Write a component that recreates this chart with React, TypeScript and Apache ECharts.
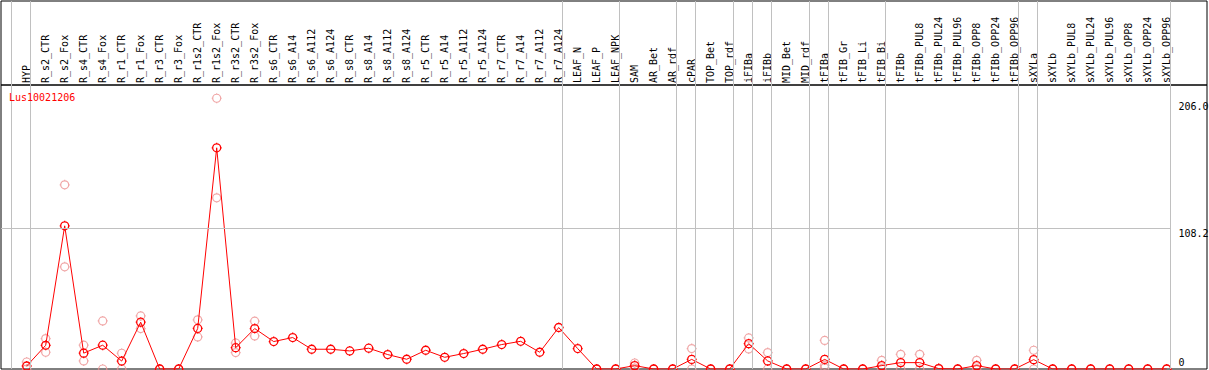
import React, { useEffect, useRef } from "react";
import * as echarts from "echarts";

const geneName = "Lus10021206";

const categories = [
  "HYP", "R_s2_CTR", "R_s2_Fox", "R_s4_CTR", "R_s4_Fox", "R_r1_CTR", "R_r1_Fox", "R_r3_CTR", "R_r3_Fox",
  "R_r1s2_CTR", "R_r1s2_Fox", "R_r3s2_CTR", "R_r3s2_Fox",
  "R_s6_CTR", "R_s6_A14", "R_s6_A112", "R_s6_A124",
  "R_s8_CTR", "R_s8_A14", "R_s8_A112", "R_s8_A124",
  "R_r5_CTR", "R_r5_A14", "R_r5_A112", "R_r5_A124",
  "R_r7_CTR", "R_r7_A14", "R_r7_A112", "R_r7_A124",
  "LEAF_N", "LEAF_P", "LEAF_NPK", "SAM", "AR_Bet", "AR_rdf", "cPAR", "TOP_Bet", "TOP_rdf",
  "iFIBa", "iFIBb", "MID_Bet", "MID_rdf", "tFIBa", "tFIB_Gr", "tFIB_Li", "tFIB_Bi",
  "tFIBb", "tFIBb_PUL8", "tFIBb_PUL24", "tFIBb_PUL96", "tFIBb_OPP8", "tFIBb_OPP24", "tFIBb_OPP96",
  "sXYLa", "sXYLb", "sXYLb_PUL8", "sXYLb_PUL24", "sXYLb_PUL96", "sXYLb_OPP8", "sXYLb_OPP24", "sXYLb_OPP96",
];

const meanValues = [
  2.3, 18.2, 110.1, 12.2, 18.3, 6.1, 36.0, 0, 0,
  31.2, 170.1, 16.4, 31.1,
  21.1, 24.2, 15.2, 15.2,
  13.9, 16.0, 11.1, 7.5,
  14.4, 9.0, 11.9, 15.2,
  18.8, 21.3, 12.9, 31.9,
  15.7, 0, 0, 2.6, 0, 0, 7.4, 0, 0,
  19.5, 6.2, 0, 0, 7.4, 0, 0, 2.6,
  4.9, 4.9, 0.3, 0, 2.6, 0, 0,
  7.2, 0, 0, 0, 0, 0, 0, 0,
];

const replicateA = [
  5.4, 23.4, 141.6, 18.3, 37.0, 12.1, 40.8, 0, 0,
  37.8, 208.2, 20.0, 36.8,
  null, null, null, null,
  null, null, null, null,
  null, null, null, null,
  null, null, null, null,
  null, 0, 0, 4.6, 0, 0, 15.7, 0, 0,
  23.9, 12.6, 0, 0, 22.0, 0, 0, 6.7,
  11.3, 11.3, 0.5, 0, 6.7, 0, 0,
  14.4, 0, 0, 0, 0, 0, 0, 0,
];

const replicateB = [
  0, 12.9, 78.6, 6.2, 0, 0, 31.1, 0, 0,
  24.7, 131.6, 12.6, 25.4,
  null, null, null, null,
  null, null, null, null,
  null, null, null, null,
  null, null, null, null,
  null, 0, 0, 0.6, 0, 0, 0, 0, 0,
  15.4, 0, 0, 0, 2.9, 0, 0, 0,
  0, 0, 0, 0, 0, 0, 0,
  0, 0, 0, 0, 0, 0, 0, 0,
];

const replicateC = [
  null, null, null, null, null, null, null, null, null,
  null, null, null, null,
  null, null, null, null,
  null, null, null, null,
  null, null, null, null,
  null, null, null, null,
  null, null, null, null, null, null, null, null, null,
  null, null, null, null, 0.9, null, null, null,
  null, null, null, null, null, null, null,
  null, null, null, null, null, null, null, null,
];

// index of the last sample in each group (separator drawn just after it)
const groupEnds = [-1, 0, 28, 31, 34, 35, 37, 38, 39, 41, 42, 45, 52, 53, 60];
const yTickValues = [0, 108.2, 206.0];
const gridLineValue = 108.2;

const FONT = "'DejaVu Sans Mono', 'Liberation Mono', monospace";
const XMIN = -1.3526;
const XMAX = 62.1211;
const YMAX = 218.4;
const SEP_OFFSET = 0.2;

const markerPath =
  "path://M1,5A4,4,0,1,1,9,5A4,4,0,1,1,1,5Z M5,0L5,1 M5,9L5,10 M0,5L1,5 M9,5L10,5";

function buildOption() {
  const repData: [number, number][] = [];
  [replicateA, replicateB, replicateC].forEach((arr) => {
    arr.forEach((v, i) => {
      if (v !== null && v !== undefined) repData.push([i, v as number]);
    });
  });
  const meanData = meanValues.map((v, i) => [i, v]);
  const sepLines = groupEnds.map((g) => ({ xAxis: g + SEP_OFFSET }));
  const sepStyle = { color: "#c0c0c0", width: 1, type: "solid" as const };

  return {
    animation: false,
    backgroundColor: "#ffffff",
    title: {
      text: geneName,
      left: 9,
      top: 92,
      padding: 0,
      textStyle: { color: "#ff0000", fontSize: 10, fontFamily: FONT, fontWeight: "normal" },
    },
    grid: [
      {
        left: 1, right: 2, top: 1, bottom: 285,
        show: true, borderColor: "#000", borderWidth: 1, backgroundColor: "transparent",
        containLabel: false, outerBoundsMode: "none",
      },
      {
        left: 1, right: 2, top: 85, bottom: 1,
        show: true, borderColor: "#000", borderWidth: 1, backgroundColor: "transparent",
        containLabel: false, outerBoundsMode: "none",
      },
    ],
    xAxis: [
      { gridIndex: 0, type: "value", min: XMIN, max: XMAX, show: false },
      {
        gridIndex: 1, type: "value", min: XMIN, max: XMAX, position: "top",
        axisLine: { show: false }, axisTick: { show: false }, splitLine: { show: false },
        axisLabel: {
          customValues: categories.map((_, i) => i),
          rotate: 90, margin: 2,
          fontFamily: FONT, fontSize: 10, color: "#000",
          formatter: (v: number) => categories[Math.round(v)] ?? "",
        },
      },
    ],
    yAxis: [
      { gridIndex: 0, type: "value", min: 0, max: 1, show: false },
      {
        gridIndex: 1, type: "value", min: 0, max: YMAX, position: "right", offset: -28.5,
        axisLine: { show: false }, axisTick: { show: false }, splitLine: { show: false },
        axisLabel: {
          customValues: yTickValues,
          margin: 0,
          fontFamily: FONT, fontSize: 10, color: "#000",
          formatter: (v: number) => (v === 0 ? "{b|0}" : "{t|" + v.toFixed(1) + "}"),
          rich: {
            t: { fontFamily: FONT, fontSize: 10, lineHeight: 12, color: "#000", padding: [10, 0, 0, 0] },
            b: { fontFamily: FONT, fontSize: 10, lineHeight: 12, color: "#000", padding: [0, 0, 14, 0] },
          },
        },
      },
    ],
    series: [
      {
        type: "line", xAxisIndex: 0, yAxisIndex: 0, data: [], symbol: "none", silent: true,
        markLine: {
          silent: true, symbol: ["none", "none"], label: { show: false },
          lineStyle: sepStyle, emphasis: { disabled: true }, data: sepLines,
        },
      },
      {
        type: "line", xAxisIndex: 1, yAxisIndex: 1, data: [], symbol: "none", silent: true, z: 1,
        markLine: {
          silent: true, symbol: ["none", "none"], label: { show: false },
          lineStyle: sepStyle, emphasis: { disabled: true },
          data: [
            ...sepLines,
            [{ coord: [XMIN, gridLineValue] }, { coord: [60 + SEP_OFFSET, gridLineValue] }],
          ],
        },
      },
      {
        type: "scatter", xAxisIndex: 1, yAxisIndex: 1, data: repData, silent: true, z: 2,
        symbol: markerPath, symbolSize: 10,
        itemStyle: { color: "rgba(255,255,255,0)", borderColor: "#ec9090", borderWidth: 1.2 },
      },
      {
        type: "line", xAxisIndex: 1, yAxisIndex: 1, data: meanData, silent: true, z: 3,
        symbol: markerPath, symbolSize: 10, showAllSymbol: true,
        lineStyle: { color: "#ff0000", width: 1 },
        itemStyle: { color: "rgba(255,255,255,0)", borderColor: "#ff0000", borderWidth: 1.3 },
      },
    ],
  };
}

export default function App() {
  const ref = useRef<HTMLDivElement>(null);
  useEffect(() => {
    if (!ref.current) return;
    const chart = echarts.init(ref.current, null, { renderer: "svg" });
    chart.setOption(buildOption() as any);
    return () => chart.dispose();
  }, []);
  return (
    <div
      ref={ref}
      style={{ position: "fixed", left: 0, top: 0, width: 1209, height: 370, background: "#fff" }}
    />
  );
}
